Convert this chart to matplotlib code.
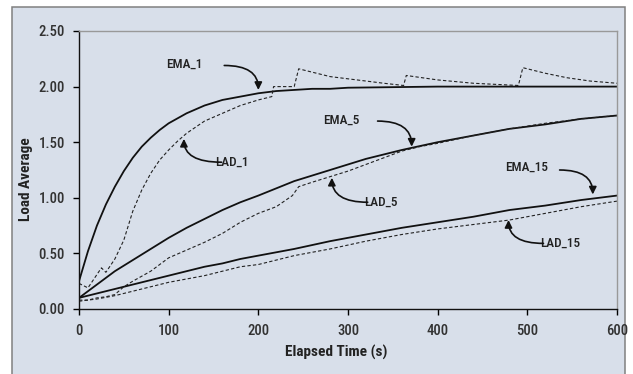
import matplotlib.pyplot as plt
from matplotlib.patches import Rectangle

plt.rcParams['font.family'] = ['Roboto Condensed', 'Liberation Sans Narrow', 'Roboto', 'DejaVu Sans']

# exponential moving averages (solid)
t_ema1 = [0, 10, 20, 30, 40, 50, 60, 70, 80, 90, 100, 120, 140, 160, 180, 200,
          220, 240, 260, 280, 300, 350, 400, 450, 500, 550, 600]
ema1 = [0.25, 0.52, 0.75, 0.94, 1.10, 1.24, 1.36, 1.46, 1.54, 1.61, 1.67, 1.76,
        1.83, 1.88, 1.91, 1.94, 1.96, 1.97, 1.98, 1.98, 1.99, 1.995, 2.00, 2.00,
        2.00, 2.00, 2.00]

t_ema = [0, 20, 40, 60, 80, 100, 120, 140, 160, 180, 200, 240, 280, 320, 360,
         400, 440, 480, 520, 560, 600]
ema5 = [0.10, 0.22, 0.34, 0.44, 0.54, 0.64, 0.73, 0.81, 0.89, 0.96, 1.02, 1.15,
        1.25, 1.35, 1.43, 1.50, 1.56, 1.62, 1.66, 1.71, 1.74]
ema15 = [0.10, 0.14, 0.18, 0.22, 0.26, 0.30, 0.34, 0.38, 0.41, 0.45, 0.48, 0.54,
         0.61, 0.67, 0.73, 0.78, 0.83, 0.89, 0.93, 0.98, 1.02]

# kernel load averages (dashed)
t_lad1 = [0, 10, 25, 30, 40, 50, 60, 70, 80, 90, 100, 110, 120, 140, 160, 180,
          200, 215, 217, 240, 245, 260, 280, 300, 320, 340, 362, 365, 400, 440,
          490, 495, 520, 544, 570, 600]
lad1 = [0.23, 0.19, 0.37, 0.33, 0.45, 0.62, 0.88, 1.07, 1.22, 1.34, 1.43, 1.51,
        1.58, 1.69, 1.76, 1.83, 1.88, 1.91, 2.00, 2.00, 2.16, 2.13, 2.09, 2.07,
        2.05, 2.03, 2.01, 2.10, 2.06, 2.03, 2.01, 2.17, 2.12, 2.08, 2.05, 2.03]

t_lad5 = [0, 10, 20, 30, 40, 50, 60, 80, 100, 120, 140, 160, 180, 200, 220, 238,
          245, 260, 280, 300, 320, 340, 360, 380, 400, 440, 480, 520, 560, 600]
lad5 = [0.08, 0.08, 0.10, 0.11, 0.13, 0.20, 0.25, 0.34, 0.46, 0.53, 0.60, 0.68,
        0.78, 0.86, 0.92, 1.02, 1.10, 1.14, 1.19, 1.24, 1.30, 1.36, 1.42, 1.46,
        1.49, 1.56, 1.62, 1.67, 1.71, 1.74]

t_lad15 = [0, 20, 40, 60, 80, 100, 120, 140, 160, 180, 200, 240, 280, 320, 360,
           400, 440, 480, 520, 560, 600]
lad15 = [0.07, 0.09, 0.12, 0.16, 0.20, 0.24, 0.27, 0.30, 0.34, 0.38, 0.40, 0.48,
         0.54, 0.61, 0.67, 0.72, 0.76, 0.80, 0.86, 0.92, 0.97]

bg = '#d8dfea'
fig = plt.figure(figsize=(6.33, 3.74), dpi=100)
frame = Rectangle((12 / 633, -0.05), 613 / 633, 1.05 - 7 / 374,
                  transform=fig.transFigure, facecolor=bg,
                  edgecolor='#808080', lw=1.1, zorder=-10)
fig.add_artist(frame)

ax = fig.add_axes([79 / 633, 65 / 374, 538 / 633, 278 / 374])
ax.set_facecolor(bg)

ax.plot(t_ema1, ema1, color='#111111', lw=1.3)
ax.plot(t_ema, ema5, color='#111111', lw=1.3)
ax.plot(t_ema, ema15, color='#111111', lw=1.3)
dash = dict(color='#222222', lw=0.8, dashes=(3, 2))
ax.plot(t_lad1, lad1, **dash)
ax.plot(t_lad5, lad5, **dash)
ax.plot(t_lad15, lad15, **dash)

ax.set_xlim(0, 600)
ax.set_ylim(0, 2.5)
ax.set_xticks([0, 100, 200, 300, 400, 500, 600])
ax.set_yticks([0, 0.5, 1.0, 1.5, 2.0, 2.5])
ax.set_yticklabels(['0.00', '0.50', '1.00', '1.50', '2.00', '2.50'])
ax.tick_params(axis='y', length=4, width=1, pad=6, labelsize=10.5, labelcolor='#333333')
ax.tick_params(axis='x', length=4, width=1, pad=7, labelsize=10.5, labelcolor='#333333')
for lab in ax.get_xticklabels() + ax.get_yticklabels():
    lab.set_fontweight('medium')

for s in ['top', 'right']:
    ax.spines[s].set_color('#999999')
    ax.spines[s].set_linewidth(1.0)
for s in ['left', 'bottom']:
    ax.spines[s].set_color('#111111')
    ax.spines[s].set_linewidth(1.0)

ax.set_xlabel('Elapsed Time (s)', fontsize=11, fontweight='bold', color='#222222')
ax.xaxis.set_label_coords(0.478, -0.13)
ax.set_ylabel('Load Average', fontsize=11, fontweight='bold', color='#222222')
ax.yaxis.set_label_coords(-0.086, 0.468)

arrow = dict(arrowstyle='-|>', color='#111111', lw=1.2, mutation_scale=11,
             shrinkA=0, shrinkB=0, connectionstyle='angle3,angleA=0,angleB=90')
notes = [
    ('EMA_1', 118, 2.20, 162, 2.19, 200, 1.97),
    ('LAD_1', 171, 1.32, 159, 1.32, 117, 1.53),
    ('EMA_5', 293, 1.70, 333, 1.69, 371, 1.46),
    ('LAD_5', 337, 0.96, 322, 0.96, 282, 1.18),
    ('EMA_15', 499, 1.27, 536, 1.25, 573, 1.03),
    ('LAD_15', 537, 0.59, 518, 0.59, 479, 0.80),
]
for label, tx, ty, sx, sy, px, py in notes:
    ax.text(tx, ty, label, ha='center', va='center', fontsize=9.5,
            fontweight='medium', color='#222222')
    ax.annotate('', xy=(px, py), xytext=(sx, sy), arrowprops=arrow)

fig.savefig('out.png', dpi=100, facecolor='white')
